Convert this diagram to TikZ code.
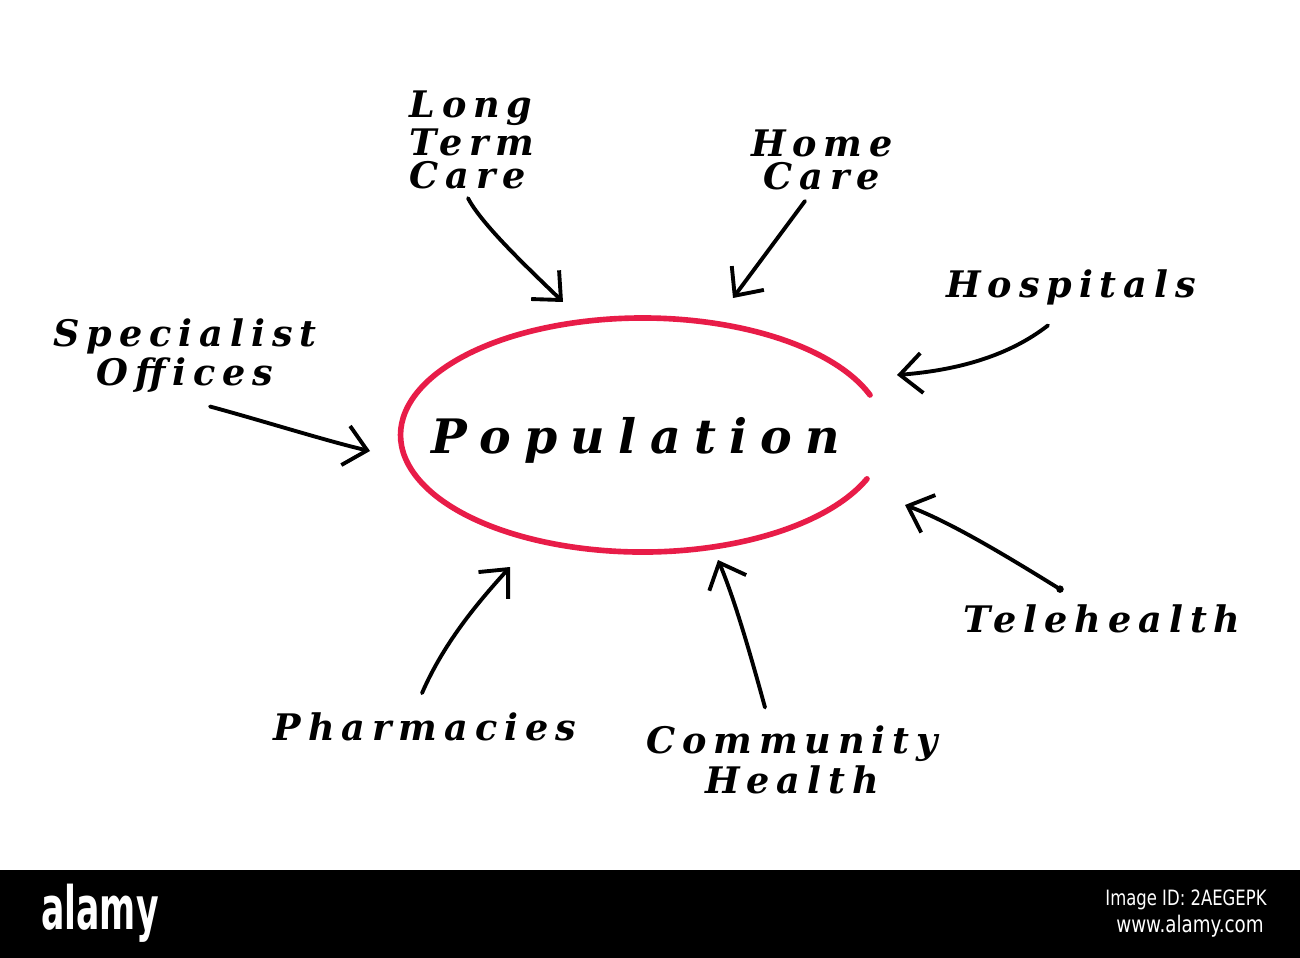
\documentclass[tikz,border=0pt]{standalone}
\usepackage{fontspec}
\usepackage{tikz}
\usetikzlibrary{arrows.meta,calc}
\newfontfamily\handfont[LetterSpace=19]{DejaVu Serif}
\newfontfamily\popfont[LetterSpace=28]{DejaVu Serif}
\newfontfamily\barfont{DejaVu Sans}
\definecolor{circlered}{RGB}{232,28,72}
\tikzset{
	lbl/.style={font=\handfont\bfseries\itshape\fontsize{10.4}{9.5}\selectfont, align=center, inner sep=0pt},
	arr/.style={line width=1.1pt, line cap=round, -{Straight Barb[length=2.2mm,width=4mm,line width=1.1pt]}},
	bartext/.style={white, inner sep=0pt},
}

\begin{document}
\begin{tikzpicture}[x=0.01cm, y=-0.01cm]
		\useasboundingbox (0,0) rectangle (1300,958);
		% the circled word
		\draw[circlered, line width=1.6pt, line cap=round] (870,395) arc[start angle=-20, end angle=-338, x radius=242, y radius=117];
		\node[font=\popfont\bfseries\itshape\fontsize{13.5}{13.5}\selectfont, inner sep=0pt] (pop) at (636,440) {Population};
		% where the arrows point
		\coordinate (pLT) at (563,302);
		\coordinate (pHC) at (733,298);
		\coordinate (pHO) at (897,375);
		\coordinate (pSO) at (370,451);
		\coordinate (pTH) at (905,505);
		\coordinate (pCH) at (718,560);
		\coordinate (pPH) at (510,567);
		% labels
		\node[lbl, align=left] (ltc) at (472,140) {Long\\Term\\Care};
		\node[lbl] (hc) at (822,160) {Home\\Care};
		\node[lbl] (hosp) at (1071,287) {Hospitals};
		\node[lbl] (spec) at (185,356) {Specialist\\Offices};
		\node[lbl] (tele) at (1102,619) {Telehealth};
		\node[lbl] (comm) at (792,760) {Community\\Health};
		\node[lbl] (pharm) at (425,727) {Pharmacies};
		% arrows
		\draw[arr] ($(ltc.south)+(-4,8)$) .. controls (482,225) and (530,270) .. (pLT);
		\draw[arr] ($(hc.south)+(-17,10)$) -- (pHC);
		\draw[arr] ($(hosp.south)+(-23,20)$) .. controls (1010,355) and (960,370) .. (pHO);
		\draw[arr] ($(spec.south)+(25,13)$) .. controls (260,420) and (330,442) .. (pSO);
		\filldraw ($(tele.north)+(-42,-15)$) circle (3);
		\draw[arr] ($(tele.north)+(-42,-15)$) .. controls (1005,555) and (950,522) .. (pTH);
		\draw[arr] ($(comm.north)+(-27,-18)$) .. controls (752,660) and (735,600) .. (pCH);
		\draw[arr] ($(pharm.north)+(-3,-19)$) .. controls (445,640) and (482,598) .. (pPH);
		% stock photo strip
		\fill[black] (0,870) rectangle (1300,958);
		\node[bartext, font=\barfont\bfseries\fontsize{17}{17}\selectfont, xscale=0.58] (logo) at (100,913) {alamy};
		\node[bartext, font=\barfont\fontsize{6}{6}\selectfont, xscale=0.78] (imgid) at (1186,900) {Image ID: 2AEGEPK};
		\node[bartext, font=\barfont\fontsize{6.5}{6.5}\selectfont, xscale=0.8] (web) at (1190,926) {www.alamy.com};
	\end{tikzpicture}
\end{document}
